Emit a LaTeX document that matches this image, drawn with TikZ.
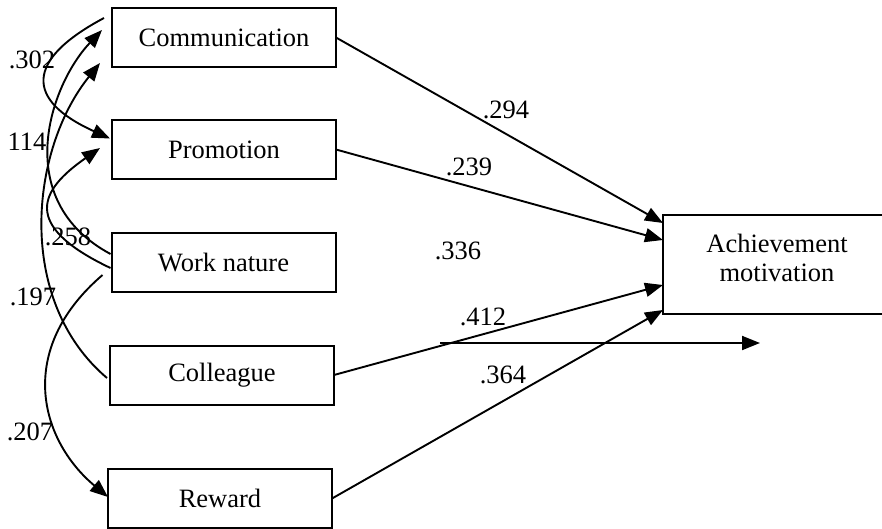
\documentclass[tikz,border=0pt]{standalone}
\usepackage{fontspec}
\setmainfont{Liberation Serif}
\usetikzlibrary{arrows.meta}

\begin{document}
\begin{tikzpicture}[x=1pt, y=-1pt,
	factor/.style={draw, line width=2pt, outer sep=0pt, inner sep=0pt, minimum width=224pt, minimum height=59pt},
	effect/.style={line width=1.9pt, -{Triangle[length=18pt, width=14pt]}},
	coef/.style={inner sep=0pt}]

\fontsize{26.5}{29}\selectfont
\path [use as bounding box] (0,0) rectangle (882,528);

% FACTORS
\node [factor] (comm) at (224,37.5) {Communication};
\node [factor] (promo) at (224,149.5) {Promotion};
\node [factor] (wn) at (223.5,262) {Work nature};
\node [factor] (coll) at (222,375) {Colleague};
\node [factor] (rew) at (220,498.5) {Reward};

% OUTCOME
\node [factor, minimum width=228pt, minimum height=99pt] (ach) at (777,264.5) {};
\node [align=center, inner sep=0pt] (achtxt) at (777,257.5) {Achievement\\motivation};

% EFFECTS
\draw [effect] (comm.east) -- ([yshift=-8pt]ach.north west);
\draw [effect] (promo.east) -- ([yshift=-25pt]ach.north west);
\draw [effect] (coll.east) -- ([yshift=29pt]ach.south west);
\draw [effect] (rew.east) -- ([yshift=4pt]ach.south west);
\coordinate (hs) at (440,343);
\coordinate (he) at (760,343);
\draw [effect] (hs) -- (he);

% CORRELATIONS
\draw [effect] ([xshift=-8pt,yshift=-10pt]comm.north west) .. controls (25,60) and (25,100) .. ([xshift=-2pt,yshift=11pt]promo.west);
\draw [effect] ([xshift=-1pt,yshift=8pt]wn.west) .. controls (10,200) and (50,85) .. ([xshift=-10pt,yshift=7.5pt]comm.west);
\draw [effect] ([xshift=-1pt,yshift=-6pt]wn.west) .. controls (20,225) and (40,190) .. ([xshift=-12pt,yshift=1.5pt]promo.west);
\draw [effect] ([xshift=-3pt,yshift=-3pt]coll.west) .. controls (15,300) and (30,150) .. ([xshift=-12pt,yshift=4pt]comm.south west);
\draw [effect] ([xshift=-9pt,yshift=-13pt]wn.west) .. controls (15,350) and (40,440) .. ([yshift=1.5pt]rew.west);

% COEFFICIENTS
\node [coef] (c302) at (32,60) {.302};
\node [coef] (c114) at (27,142) {114};
\node [coef] (c258) at (68,237) {.258};
\node [coef] (c197) at (33,297) {.197};
\node [coef] (c207) at (30,432) {.207};
\node [coef] (c294) at (506,110) {.294};
\node [coef] (c239) at (469,167) {.239};
\node [coef] (c336) at (458,251) {.336};
\node [coef] (c412) at (483,317) {.412};
\node [coef] (c364) at (503,375) {.364};

\end{tikzpicture}
\end{document}
